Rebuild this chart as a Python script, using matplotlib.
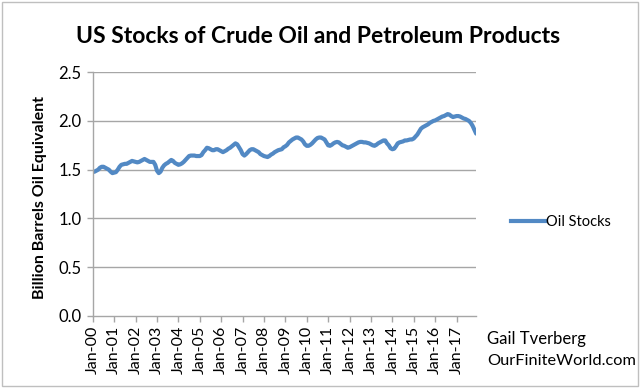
import matplotlib
matplotlib.use("Agg")
import matplotlib.pyplot as plt
from matplotlib.patches import Rectangle
from matplotlib.lines import Line2D

# Monthly stocks, billion barrels oil equivalent, Jan 2000 .. Dec 2017
y2000 = [1.476, 1.48, 1.49, 1.50, 1.52, 1.53, 1.53, 1.52, 1.51, 1.50, 1.48, 1.465]
y2001 = [1.47, 1.475, 1.50, 1.53, 1.55, 1.555, 1.56, 1.56, 1.57, 1.58, 1.59, 1.585]
y2002 = [1.58, 1.575, 1.58, 1.59, 1.60, 1.61, 1.60, 1.59, 1.58, 1.58, 1.58, 1.55]
y2003 = [1.49, 1.465, 1.48, 1.52, 1.545, 1.56, 1.57, 1.585, 1.60, 1.59, 1.57, 1.56]
y2004 = [1.55, 1.555, 1.565, 1.58, 1.60, 1.62, 1.64, 1.645, 1.645, 1.645, 1.64, 1.64]
y2005 = [1.64, 1.65, 1.68, 1.70, 1.725, 1.72, 1.71, 1.70, 1.70, 1.71, 1.71, 1.70]
y2006 = [1.69, 1.68, 1.69, 1.70, 1.715, 1.725, 1.74, 1.755, 1.77, 1.76, 1.73, 1.70]
y2007 = [1.66, 1.645, 1.66, 1.68, 1.70, 1.71, 1.71, 1.70, 1.69, 1.68, 1.66, 1.65]
y2008 = [1.64, 1.635, 1.63, 1.64, 1.655, 1.665, 1.68, 1.69, 1.70, 1.705, 1.71, 1.73]
y2009 = [1.74, 1.755, 1.78, 1.795, 1.81, 1.82, 1.83, 1.83, 1.82, 1.81, 1.79, 1.76]
y2010 = [1.745, 1.745, 1.755, 1.77, 1.79, 1.81, 1.825, 1.83, 1.83, 1.82, 1.81, 1.78]
y2011 = [1.75, 1.745, 1.755, 1.77, 1.78, 1.785, 1.78, 1.765, 1.75, 1.745, 1.735, 1.725]
y2012 = [1.73, 1.74, 1.75, 1.76, 1.77, 1.78, 1.785, 1.785, 1.78, 1.78, 1.775, 1.77]
y2013 = [1.76, 1.75, 1.745, 1.755, 1.77, 1.78, 1.79, 1.80, 1.80, 1.77, 1.75, 1.72]
y2014 = [1.71, 1.715, 1.74, 1.77, 1.78, 1.785, 1.79, 1.80, 1.80, 1.805, 1.81, 1.81]
y2015 = [1.82, 1.84, 1.86, 1.89, 1.92, 1.935, 1.945, 1.955, 1.965, 1.98, 1.99, 2.00]
y2016 = [2.005, 2.015, 2.025, 2.035, 2.045, 2.05, 2.06, 2.07, 2.065, 2.05, 2.04, 2.045]
y2017 = [2.05, 2.05, 2.045, 2.035, 2.025, 2.02, 2.01, 2.00, 1.98, 1.95, 1.91, 1.87]

oil_stocks = (y2000 + y2001 + y2002 + y2003 + y2004 + y2005 + y2006 + y2007 + y2008
              + y2009 + y2010 + y2011 + y2012 + y2013 + y2014 + y2015 + y2016 + y2017)
xtick_labels = ["Jan-%02d" % y for y in range(0, 18)]
yticks = [0.0, 0.5, 1.0, 1.5, 2.0, 2.5]

FONT = ["Lato", "DejaVu Sans"]
LINE_COLOR = "#5289C4"
GRID_COLOR = "#A6A6A6"

fig = plt.figure(figsize=(6.4, 3.88), dpi=100)
fig.patch.set_facecolor("white")
fig.add_artist(Rectangle((0.003, 0.004), 0.994, 0.99, transform=fig.transFigure,
                         fill=False, edgecolor="#BFBFBF", linewidth=1.0))

ax = fig.add_axes([0.145, 0.1856, 0.599, 0.6284])
x = list(range(len(oil_stocks)))
ax.plot(x, oil_stocks, color=LINE_COLOR, linewidth=3.0, solid_capstyle="round",
        solid_joinstyle="round")

ax.set_xlim(0, len(oil_stocks) - 1)
ax.set_ylim(0, 2.5)
ax.set_yticks(yticks)
ax.set_yticklabels(["%.1f" % v for v in yticks], fontsize=12, family=FONT)
ax.set_xticks(list(range(0, len(oil_stocks), 12)))
ax.set_xticklabels(xtick_labels, rotation=90, fontsize=11.5, family=FONT)

for v in yticks[1:]:
    ax.axhline(v, color=GRID_COLOR, linewidth=1.0, zorder=0)

for s in ["top", "right"]:
    ax.spines[s].set_visible(False)
for s in ["left", "bottom"]:
    ax.spines[s].set_color(GRID_COLOR)
    ax.spines[s].set_linewidth(1.0)
ax.tick_params(axis="both", colors=GRID_COLOR, length=4, width=1.0, labelcolor="black")
ax.tick_params(axis="y", pad=4)
ax.tick_params(axis="x", pad=3)

fig.text(0.497, 0.905, "US Stocks of Crude Oil and Petroleum Products",
         ha="center", va="center", fontsize=16.5, fontweight="bold", family=FONT)
fig.text(0.062, 0.49, "Billion Barrels Oil Equivalent", rotation=90,
         ha="center", va="center", fontsize=11.5, fontweight="bold", family=FONT)

handle = Line2D([0], [0], color=LINE_COLOR, linewidth=3.0)
fig.legend([handle], ["Oil Stocks"], loc="center left", bbox_to_anchor=(0.778, 0.428),
           frameon=False, prop={"family": FONT, "size": 10.5},
           handlelength=2.3, handletextpad=0.1)

fig.text(0.761, 0.126, "Gail Tverberg", ha="left", va="center", fontsize=12, family=FONT)
fig.text(0.761, 0.07, "OurFiniteWorld.com", ha="left", va="center", fontsize=11.8, family=FONT)

fig.savefig("out.png", dpi=100)
